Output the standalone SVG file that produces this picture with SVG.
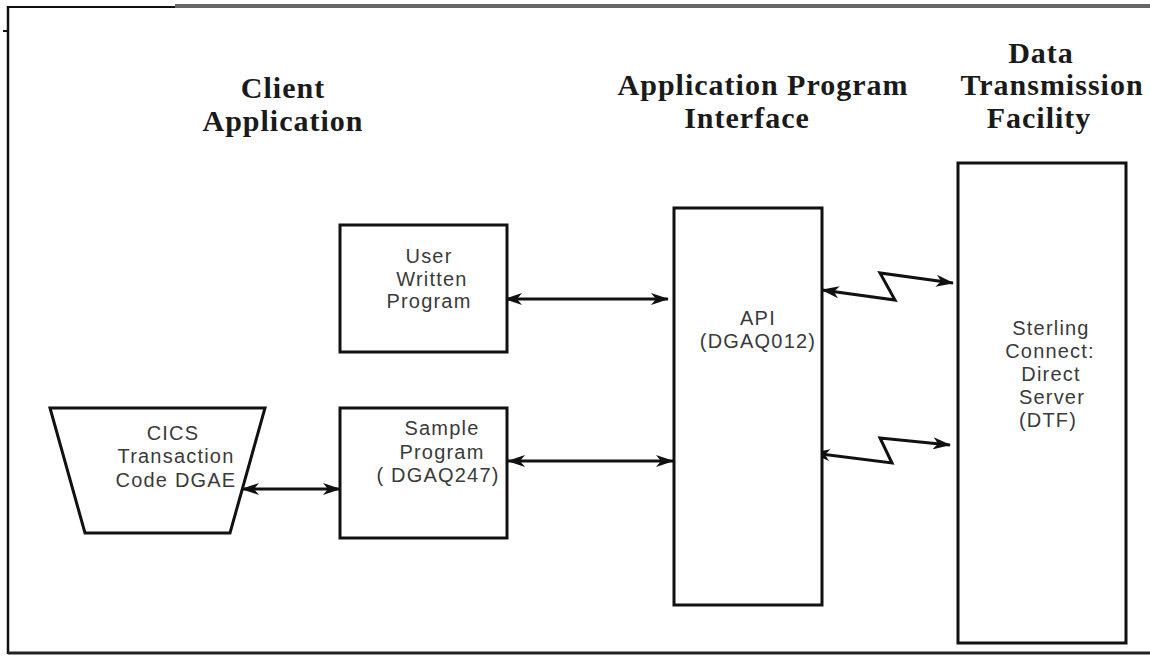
<svg xmlns="http://www.w3.org/2000/svg" width="1150" height="656" viewBox="0 0 1150 656">
<style>
.box{fill:#fff;stroke:#111;stroke-width:3}
.t{font-family:"Liberation Serif","Times New Roman",serif;font-weight:bold;font-size:30px;fill:#1a1a1a;text-anchor:middle;letter-spacing:1px}
.b{font-family:"Liberation Sans",Arial,sans-serif;font-size:20px;fill:#3a3a3a;text-anchor:middle;letter-spacing:1.2px}
.c{fill:none;stroke:#111;stroke-width:3;stroke-linejoin:miter}
</style>
<defs>
<marker id="ah" viewBox="0 0 18 12" refX="17" refY="6" markerWidth="18" markerHeight="12" markerUnits="userSpaceOnUse" orient="auto-start-reverse">
<path d="M0,0 L18,6 L0,12 L5,6 z" fill="#111"/>
</marker>
</defs>
<rect width="1150" height="656" fill="#fff"/>
<g id="frame">
<line x1="7" y1="7" x2="176" y2="7" stroke="#111" stroke-width="2"/>
<line x1="175" y1="6" x2="1150" y2="6" stroke="#666" stroke-width="4"/>
<line x1="8" y1="6" x2="8" y2="654" stroke="#111" stroke-width="2.5"/>
<line x1="3" y1="31" x2="8" y2="31" stroke="#111" stroke-width="2"/>
<line x1="8" y1="653" x2="1150" y2="653" stroke="#222" stroke-width="3"/>
</g>
<g id="titles">
<text class="t" x="283" y="98">Client</text>
<text class="t" x="283" y="131">Application</text>
<text class="t" x="763" y="95">Application Program</text>
<text class="t" x="747" y="128">Interface</text>
<text class="t" x="1041" y="63">Data</text>
<text class="t" x="1052" y="95">Transmission</text>
<text class="t" x="1039" y="128">Facility</text>
</g>
<g id="connectors">
<line class="c" x1="242" y1="489" x2="340" y2="489" marker-start="url(#ah)" marker-end="url(#ah)"/>
<line class="c" x1="505" y1="299" x2="668" y2="299" marker-start="url(#ah)" marker-end="url(#ah)"/>
<line class="c" x1="508" y1="461" x2="673" y2="461" marker-start="url(#ah)" marker-end="url(#ah)"/>
<polyline class="c" points="822,290 895,300 880,273 953,283" marker-start="url(#ah)" marker-end="url(#ah)"/>
<polyline class="c" points="813,453 892,463 880,438 950,445" marker-start="url(#ah)" marker-end="url(#ah)"/>
</g>
<g id="cics">
<polygon class="box" points="50,408 265,408 230,533 85,533"/>
<text class="b" x="173" y="440">CICS</text>
<text class="b" x="176" y="463">Transaction</text>
<text class="b" x="176" y="487">Code DGAE</text>
</g>
<g id="user-program">
<rect class="box" x="340" y="225" width="167" height="127"/>
<text class="b" x="429" y="263">User</text>
<text class="b" x="432" y="286">Written</text>
<text class="b" x="429" y="308">Program</text>
</g>
<g id="sample-program">
<rect class="box" x="340" y="408" width="167" height="130"/>
<text class="b" x="442" y="435">Sample</text>
<text class="b" x="442" y="459">Program</text>
<text class="b" x="438" y="482">( DGAQ247)</text>
</g>
<g id="api">
<rect class="box" x="674" y="208" width="148" height="397"/>
<text class="b" x="758" y="325">API</text>
<text class="b" x="758" y="348">(DGAQ012)</text>
</g>
<g id="dtf">
<rect class="box" x="958" y="163" width="168" height="480"/>
<text class="b" x="1051" y="335">Sterling</text>
<text class="b" x="1050" y="358">Connect:</text>
<text class="b" x="1051" y="381">Direct</text>
<text class="b" x="1052" y="404">Server</text>
<text class="b" x="1048" y="427">(DTF)</text>
</g>
</svg>
